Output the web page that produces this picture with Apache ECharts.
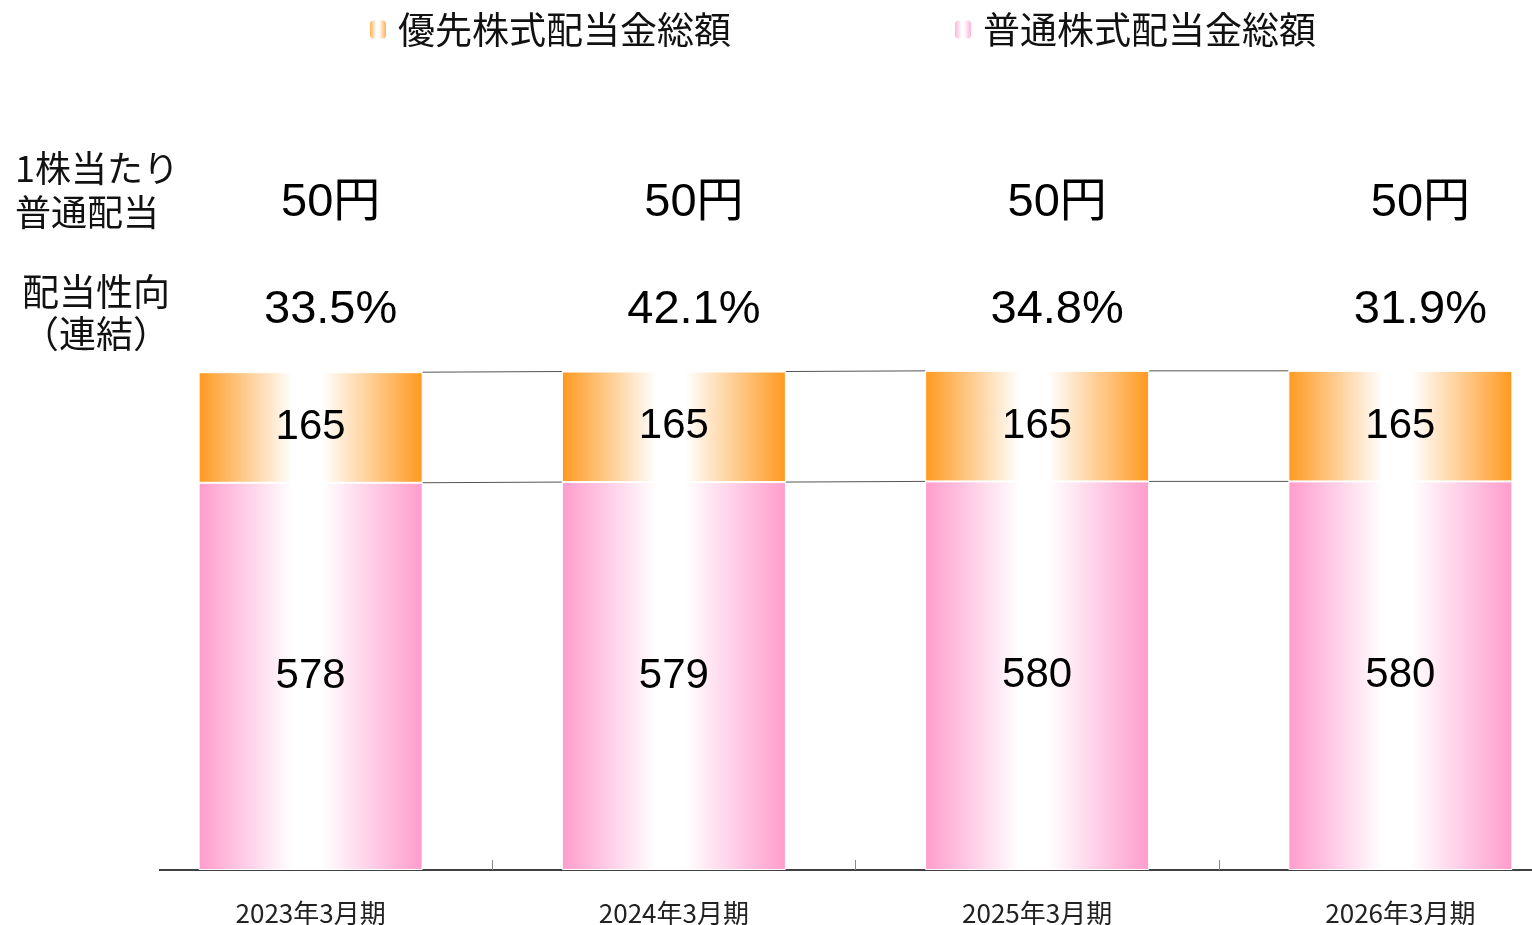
<!DOCTYPE html>
<html>
<head>
<meta charset="utf-8">
<script src="https://cdn.jsdelivr.net/npm/echarts@6/dist/echarts.min.js"></script>
<style>
  html, body { margin: 0; padding: 0; background: #fff; }
  #main { width: 1532px; height: 925px; }
</style>
</head>
<body>
<div id="main"></div>
<script>
var years = ['2023年3月期', '2024年3月期', '2025年3月期', '2026年3月期'];
var commonDiv = [578, 579, 580, 580];      // 普通株式配当金総額
var prefDiv = [165, 165, 165, 165];        // 優先株式配当金総額
var perShare = ['50円', '50円', '50円', '50円'];
var payoutRatio = ['33.5%', '42.1%', '34.8%', '31.9%'];

var BAR_W = 224;
var NUM_FONT = '"Liberation Sans", Arial, "Noto Sans CJK JP", sans-serif';
var JP_FONT = '"Noto Sans CJK JP", sans-serif';

var chart = echarts.init(document.getElementById('main'));

function hGrad(edge) {
    return new echarts.graphic.LinearGradient(0, 0, 1, 0, [
        { offset: 0, color: edge },
        { offset: 0.42, color: '#ffffff' },
        { offset: 0.55, color: '#ffffff' },
        { offset: 1, color: edge }
    ]);
}

// connector lines between neighbouring bars
var linkData = [];
for (var i = 0; i < years.length - 1; i++) {
    linkData.push([i, commonDiv[i] + prefDiv[i], commonDiv[i + 1] + prefDiv[i + 1], commonDiv[i], commonDiv[i + 1]]);
}

var rowData = years.map(function(y, i) { return [i, 0]; });

var option = {
    animation: false,
    backgroundColor: '#fff',
    legend: {
        data: ['優先株式配当金総額', '普通株式配当金総額'],
        left: 363,
        top: 6,
        itemWidth: 18,
        itemHeight: 20,
        itemGap: 222,
        textStyle: { fontSize: 37, color: '#111', fontFamily: JP_FONT, padding: [0, 0, 0, 6] }
    },
    grid: { left: 129, width: 1453, top: 200, bottom: 55, outerBoundsMode: 'none', containLabel: false },
    xAxis: {
        type: 'category',
        data: years,
        axisLine: { show: false },
        axisTick: {
            show: true,
            inside: true,
            length: 10,
            interval: function(index) { return index > 0; },
            lineStyle: { color: '#888', width: 1 }
        },
        axisLabel: { fontSize: 26, color: '#222', fontFamily: JP_FONT, margin: 30 }
    },
    yAxis: { type: 'value', min: 0, max: 1000, show: false, splitLine: { show: false } },
    graphic: [
        { type: 'line', shape: { x1: 159, y1: 870, x2: 1532, y2: 870 }, style: { stroke: '#000', lineWidth: 1.5 } },
        { type: 'text', left: 15, top: 146, style: { text: '1株当たり\n普通配当', fontSize: 36, lineHeight: 44, fill: '#111', fontFamily: JP_FONT } },
        { type: 'text', left: 22, top: 271, style: { text: '配当性向\n（連結）', fontSize: 37, lineHeight: 42, fill: '#111', fontFamily: JP_FONT, align: 'center' } }
    ],
    series: [
        {
            name: '普通株式配当金総額',
            type: 'bar',
            stack: 'div',
            barWidth: BAR_W,
            data: commonDiv,
            itemStyle: { color: hGrad('#ff9ccc'), borderColor: '#fff', borderWidth: 1 },
            label: { show: true, position: 'inside', fontSize: 42, color: '#000', fontFamily: NUM_FONT }
        },
        {
            name: '優先株式配当金総額',
            type: 'bar',
            stack: 'div',
            barWidth: BAR_W,
            data: prefDiv,
            itemStyle: { color: hGrad('#ff991f'), borderColor: '#fff', borderWidth: 1 },
            label: { show: true, position: 'inside', fontSize: 42, color: '#000', fontFamily: NUM_FONT }
        },
        {
            type: 'custom',
            silent: true,
            clip: false,
            data: linkData,
            renderItem: function(params, api) {
                var i = api.value(0);
                var xa = api.coord([i, 0])[0] + BAR_W / 2;
                var xb = api.coord([i + 1, 0])[0] - BAR_W / 2;
                var t1 = api.coord([i, api.value(1)])[1];
                var t2 = api.coord([i + 1, api.value(2)])[1];
                var m1 = api.coord([i, api.value(3)])[1];
                var m2 = api.coord([i + 1, api.value(4)])[1];
                var st = { stroke: '#555', lineWidth: 1 };
                return {
                    type: 'group',
                    children: [
                        { type: 'line', shape: { x1: xa, y1: t1, x2: xb, y2: t2 }, style: st },
                        { type: 'line', shape: { x1: xa, y1: m1, x2: xb, y2: m2 }, style: st }
                    ]
                };
            }
        },
        {
            type: 'custom',
            silent: true,
            clip: false,
            data: rowData,
            renderItem: function(params, api) {
                var i = params.dataIndex;
                var x = api.coord([api.value(0), 0])[0] + 20;
                return {
                    type: 'group',
                    children: [
                        { type: 'text', x: x, y: 203, style: { text: perShare[i], fontSize: 47, fill: '#000', fontFamily: NUM_FONT, align: 'center', verticalAlign: 'middle' } },
                        { type: 'text', x: x, y: 310, style: { text: payoutRatio[i], fontSize: 47, fill: '#000', fontFamily: NUM_FONT, align: 'center', verticalAlign: 'middle' } }
                    ]
                };
            }
        }
    ]
};

chart.setOption(option);
</script>
</body>
</html>
